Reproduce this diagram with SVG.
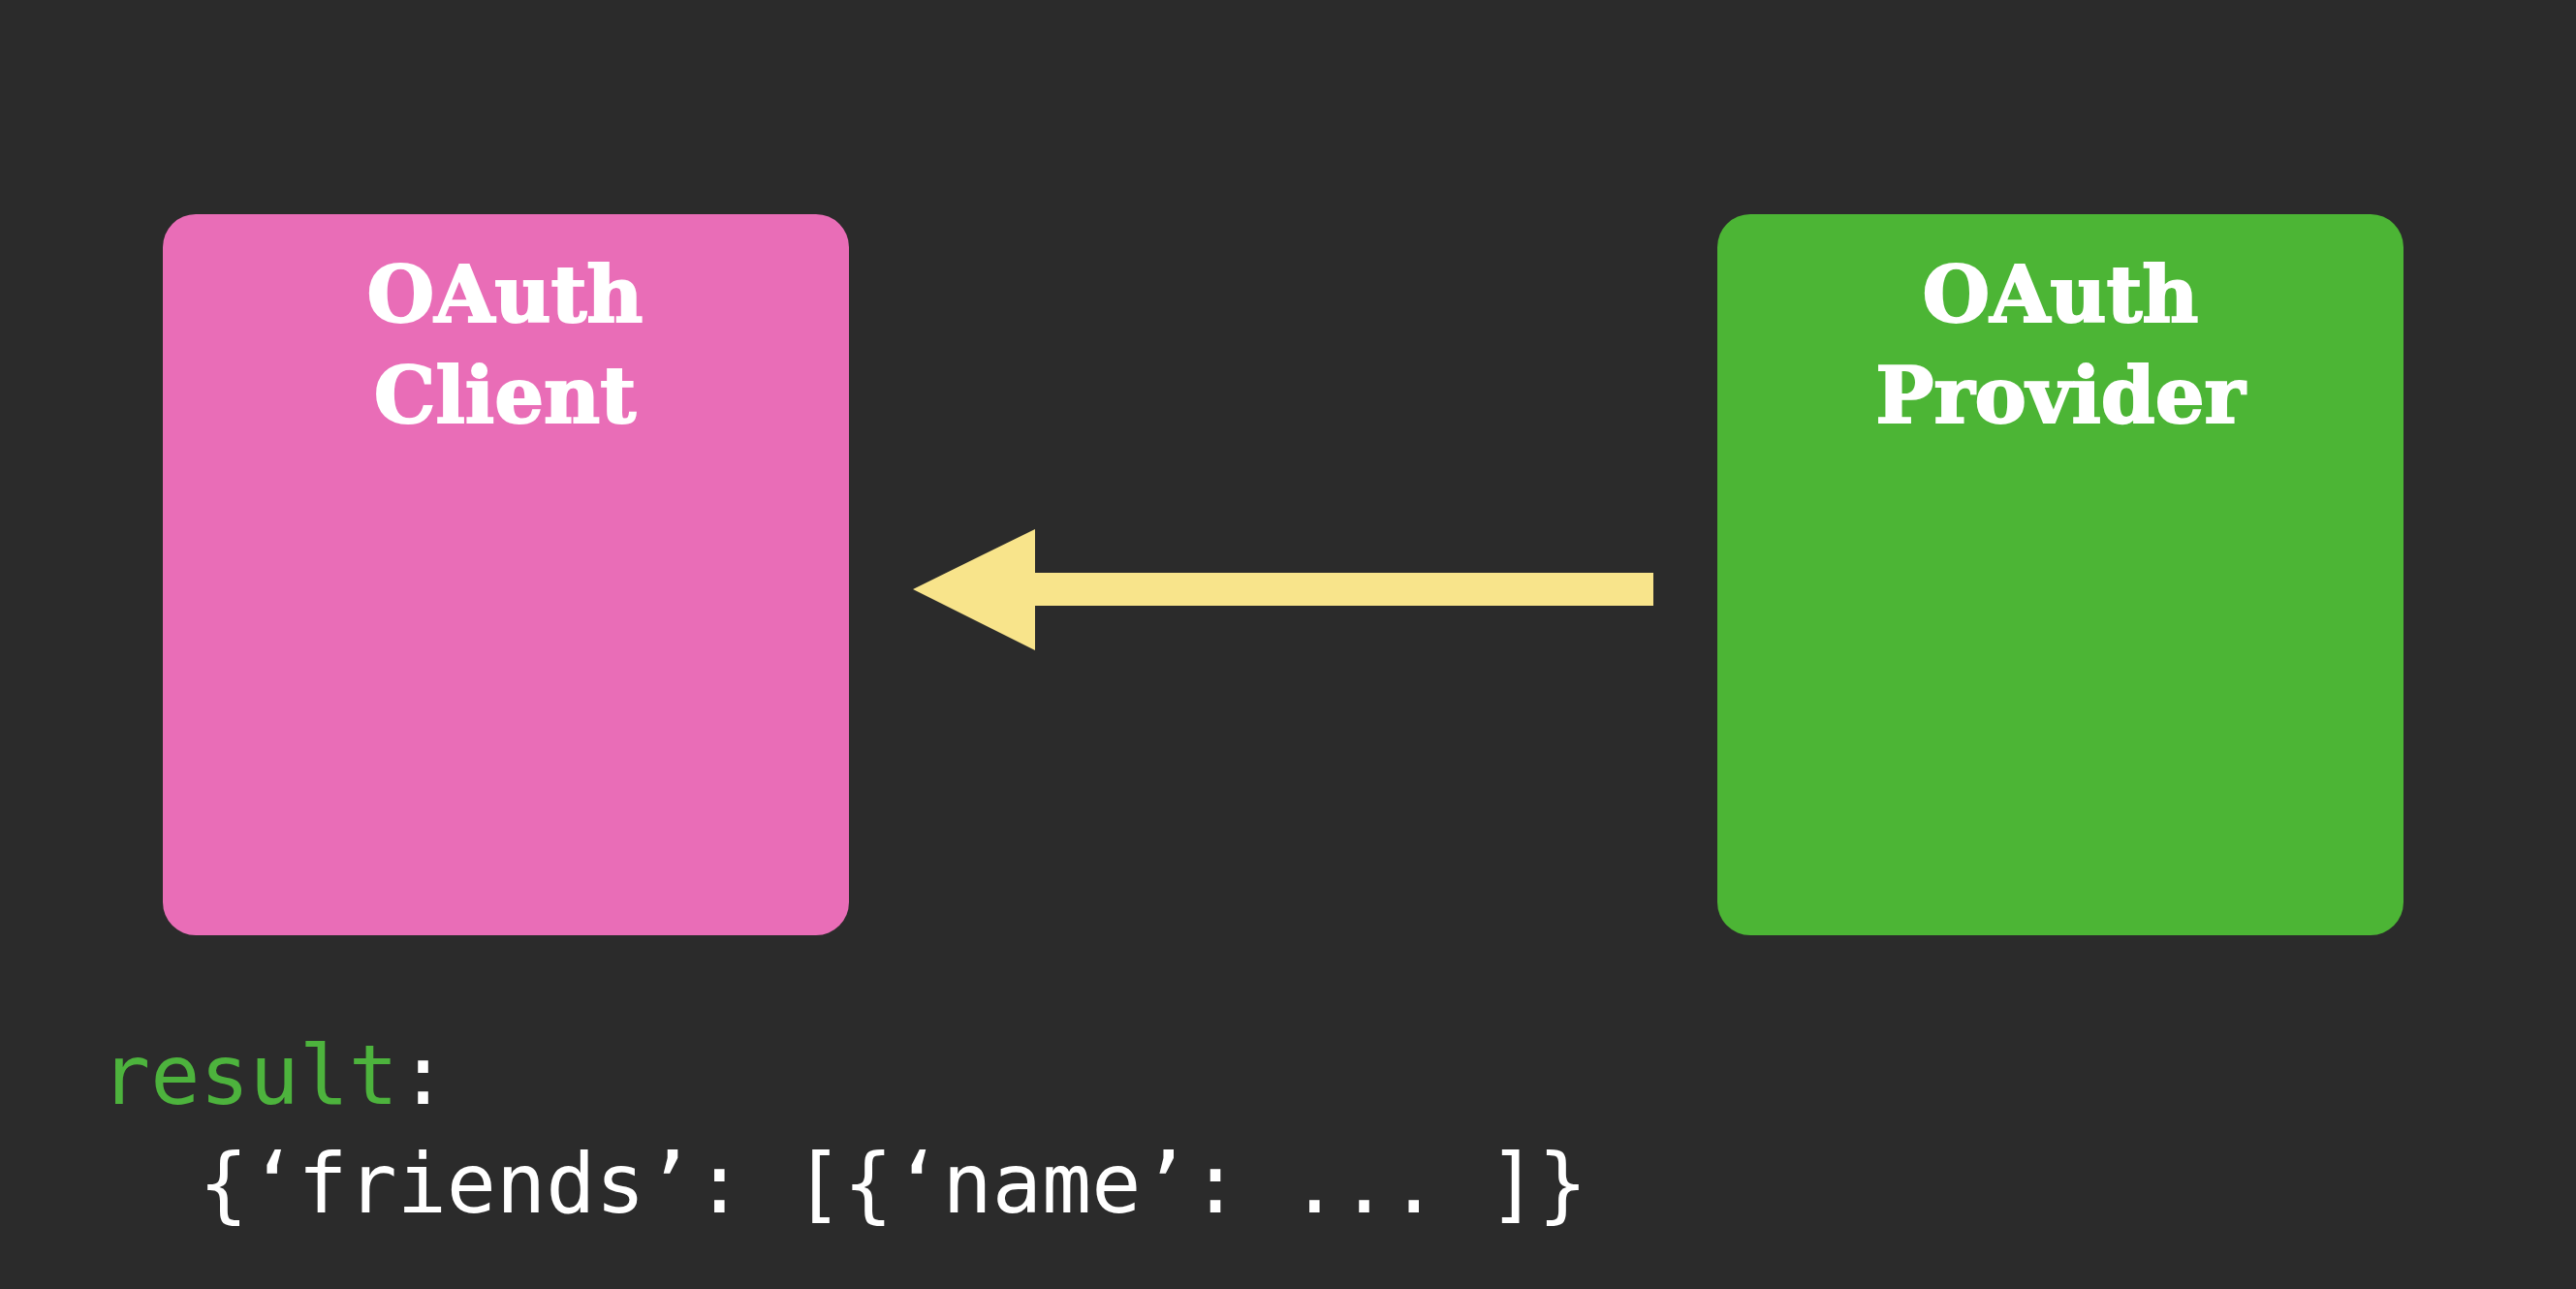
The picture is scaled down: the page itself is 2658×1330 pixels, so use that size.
<svg xmlns="http://www.w3.org/2000/svg" width="2658" height="1330" viewBox="0 0 2658 1330">
  <style>
    .title { font-family: "DejaVu Serif", "Liberation Serif", serif; font-weight: bold; font-size: 80px; fill: #ffffff; stroke: #ffffff; stroke-width: 2px; text-anchor: middle; }
    .code { font-family: "DejaVu Sans Mono", "Liberation Mono", monospace; font-size: 85px; fill: #ffffff; }
    .key { fill: #4db33d; }
  </style>
  <rect x="0" y="0" width="2658" height="1330" fill="#2b2b2b"/>
  <g id="client">
    <rect x="168" y="221" width="708" height="744" rx="34" ry="34" fill="#e96db7"/>
    <text class="title" x="521" y="332">OAuth</text>
    <text class="title" x="521" y="436">Client</text>
  </g>
  <g id="provider">
    <rect x="1772" y="221" width="708" height="744" rx="34" ry="34" fill="#4cb535"/>
    <text class="title" x="2126" y="332">OAuth</text>
    <text class="title" x="2126" y="436">Provider</text>
  </g>
  <g id="connectors">
    <polygon points="1706,591 1068,591 1068,546 942,608 1068,671 1068,625 1706,625" fill="#f8e48b"/>
  </g>
  <g id="result">
    <text class="code" x="104" y="1139"><tspan class="key">result</tspan>:</text>
    <text class="code" x="205" y="1251">{‘friends’: [{‘name’: ... ]}</text>
  </g>
</svg>
